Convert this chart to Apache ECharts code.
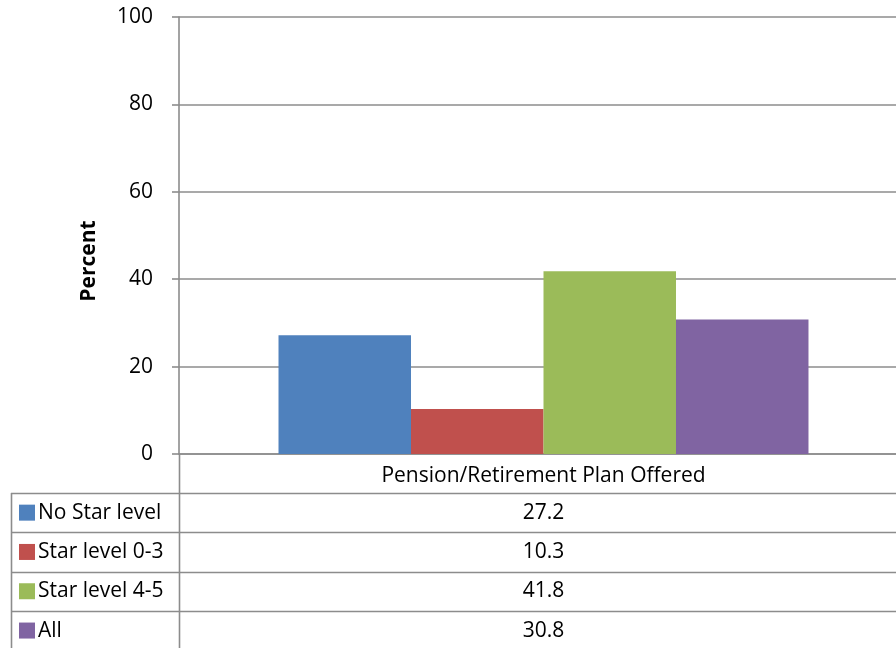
<!DOCTYPE html>
<html>
<head>
<meta charset="utf-8">
<script src="https://cdn.jsdelivr.net/npm/echarts@6/dist/echarts.min.js"></script>
<style>
  html, body { margin: 0; padding: 0; background: #fff; }
  #chart { width: 896px; height: 648px; }
</style>
</head>
<body>
<div id="chart"></div>
<script>
// Share of centres offering a pension / retirement plan, by star level
const categories = ['Pension/Retirement Plan Offered'];
const seriesNames = ['No Star level', 'Star level 0-3', 'Star level 4-5', 'All'];
const noStar = [27.2];
const star03 = [10.3];
const star45 = [41.8];
const allCentres = [30.8];
const yTicks = [0, 20, 40, 60, 80, 100];

const seriesValues = [noStar, star03, star45, allCentres];
const colors = ['#4F81BD', '#C0504D', '#9BBB59', '#8064A2'];
const FONT = '"Open Sans", "Noto Sans", sans-serif';
const FS = 21;
const LINE = '#8c8c8c';

const W = 896, H = 648;
// plot area runs a little past the right edge of the canvas
const gridLeft = 179, gridWidth = 729, gridTop = 17, gridBottom = 194;
const plotBottom = H - gridBottom;     // y of the value-0 line
const tableTop = 493, rowH = 39.3, tableLeft = 11;
const valueColX = gridLeft + gridWidth / 2;

const chart = echarts.init(document.getElementById('chart'), null, { renderer: 'canvas' });

// Data table drawn underneath the plot: header column with colour keys, value column
const graphic = [];
for (let i = 0; i <= seriesNames.length; i++) {
  const y = Math.round(tableTop + i * rowH) + 0.5;
  graphic.push({ type: 'line', shape: { x1: tableLeft, y1: y, x2: W, y2: y },
    style: { stroke: LINE, lineWidth: 1.6 }, silent: true });
}
graphic.push({ type: 'line', shape: { x1: tableLeft + 0.5, y1: tableTop, x2: tableLeft + 0.5, y2: H },
  style: { stroke: LINE, lineWidth: 1.6 } });
graphic.push({ type: 'line', shape: { x1: gridLeft + 0.5, y1: plotBottom, x2: gridLeft + 0.5, y2: H },
  style: { stroke: LINE, lineWidth: 1.6 } });

seriesNames.forEach((name, i) => {
  const cy = tableTop + i * rowH + rowH / 2;
  graphic.push({ type: 'rect', shape: { x: 19, y: cy - 8, width: 16, height: 16 },
    style: { fill: colors[i] } });
  graphic.push({ type: 'text', x: 38, y: cy,
    style: { text: name, fill: '#000', font: FS + 'px ' + FONT, textVerticalAlign: 'middle' } });
  graphic.push({ type: 'text', x: valueColX, y: cy,
    style: { text: seriesValues[i][0].toFixed(1), fill: '#000', font: FS + 'px ' + FONT,
      textAlign: 'center', textVerticalAlign: 'middle' } });
});

// Rotated axis title
graphic.push({ type: 'text', x: 89, y: 261, rotation: Math.PI / 2,
  style: { text: 'Percent', fill: '#000', font: 'bold ' + FS + 'px ' + FONT,
    textAlign: 'center', textVerticalAlign: 'middle' } });

const option = {
  backgroundColor: '#fff',
  animation: false,
  grid: {
    left: gridLeft, width: gridWidth, top: gridTop, bottom: gridBottom,
    containLabel: false, outerBoundsMode: 'none'
  },
  xAxis: {
    type: 'category',
    data: categories,
    axisLine: { show: true, lineStyle: { color: LINE, width: 1.6 } },
    axisTick: { show: false },
    axisLabel: { color: '#000', fontSize: FS, fontFamily: FONT, margin: 12 },
    splitLine: { show: false }
  },
  yAxis: {
    type: 'value',
    min: yTicks[0],
    max: yTicks[yTicks.length - 1],
    interval: yTicks[1] - yTicks[0],
    axisLine: { show: true, lineStyle: { color: LINE, width: 1.6 } },
    axisTick: { show: true, inside: false, length: 7, lineStyle: { color: LINE, width: 1.6 } },
    axisLabel: { color: '#000', fontSize: FS, fontFamily: FONT, margin: 26 },
    splitLine: { show: true, lineStyle: { color: LINE, width: 1.6 } }
  },
  series: seriesNames.map((name, i) => ({
    name,
    type: 'bar',
    data: seriesValues[i],
    barGap: '0%',
    barCategoryGap: '27.3%',
    itemStyle: { color: colors[i] }
  })),
  graphic
};

chart.setOption(option);
</script>
</body>
</html>
